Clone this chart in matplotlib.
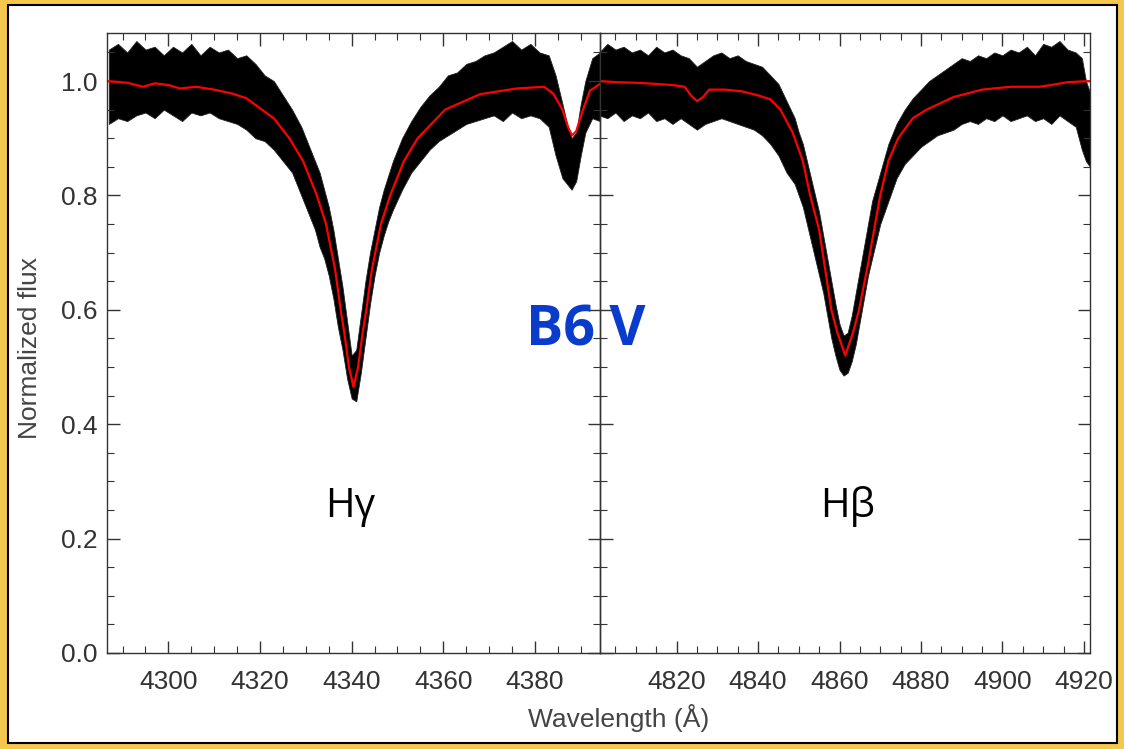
import matplotlib
matplotlib.use("Agg")
import matplotlib.pyplot as plt
from matplotlib.patches import Rectangle
from matplotlib.ticker import MultipleLocator

plt.rcParams["font.family"] = ["Liberation Sans", "DejaVu Sans"]

# --- H-gamma panel: observed band (upper / lower envelope) and model ---
wl_g = [4287, 4289, 4291, 4293, 4295, 4297, 4299, 4301, 4303, 4305, 4307, 4309,
        4311, 4313, 4315, 4317, 4319, 4321, 4323, 4325, 4327, 4329, 4331, 4332,
        4333, 4334, 4335, 4336, 4337, 4338, 4339, 4340, 4341, 4342, 4343, 4344,
        4345, 4346, 4347, 4348, 4349, 4351, 4353, 4355, 4357, 4359, 4361, 4363,
        4365, 4367, 4369, 4371, 4373, 4375, 4377, 4379, 4381, 4383, 4384.5, 4386,
        4387, 4388, 4389, 4390, 4391, 4392.5, 4394.2]
hi_g = [1.055, 1.065, 1.050, 1.070, 1.055, 1.060, 1.045, 1.060, 1.050, 1.065, 1.045, 1.060,
        1.050, 1.055, 1.040, 1.045, 1.030, 1.010, 1.000, 0.975, 0.950, 0.920, 0.880, 0.860,
        0.840, 0.810, 0.780, 0.740, 0.690, 0.640, 0.580, 0.520, 0.530, 0.590, 0.650, 0.700,
        0.740, 0.780, 0.810, 0.835, 0.860, 0.900, 0.930, 0.955, 0.975, 0.990, 1.010, 1.015,
        1.030, 1.035, 1.045, 1.050, 1.060, 1.070, 1.055, 1.065, 1.050, 1.045, 1.010, 0.960,
        0.925, 0.900, 0.910, 0.960, 1.000, 1.040, 1.050]
lo_g = [0.925, 0.935, 0.930, 0.940, 0.945, 0.935, 0.950, 0.940, 0.930, 0.945, 0.940, 0.945,
        0.935, 0.930, 0.925, 0.915, 0.900, 0.895, 0.880, 0.860, 0.840, 0.800, 0.760, 0.740,
        0.710, 0.690, 0.660, 0.620, 0.570, 0.530, 0.480, 0.445, 0.440, 0.490, 0.550, 0.610,
        0.660, 0.700, 0.730, 0.755, 0.775, 0.810, 0.840, 0.860, 0.880, 0.895, 0.905, 0.915,
        0.925, 0.930, 0.935, 0.940, 0.930, 0.945, 0.935, 0.940, 0.935, 0.920, 0.870, 0.830,
        0.820, 0.810, 0.825, 0.870, 0.910, 0.935, 0.930]
mwl_g = [4286.6, 4291, 4294.5, 4297, 4300, 4302.5, 4306, 4310, 4314, 4317, 4320.4, 4323,
         4326.4, 4329.4, 4332.4, 4334.4, 4336.4, 4337.6, 4338.4, 4339.4, 4340.4, 4341.4,
         4342.4, 4343.2, 4344.4, 4346.4, 4348.4, 4351.4, 4354.4, 4360.4, 4368, 4376, 4382,
         4384, 4386, 4387.3, 4388.1, 4389, 4390.5, 4392, 4394.2]
mfl_g = [1.000, 0.997, 0.990, 0.996, 0.993, 0.987, 0.990, 0.985, 0.978, 0.970, 0.950, 0.935,
         0.900, 0.860, 0.800, 0.750, 0.670, 0.600, 0.560, 0.500, 0.465, 0.500,
         0.560, 0.600, 0.670, 0.750, 0.800, 0.860, 0.900, 0.950, 0.977, 0.987, 0.990,
         0.978, 0.950, 0.918, 0.905, 0.912, 0.950, 0.983, 0.995]

# --- H-beta panel ---
wl_b = [4801, 4803, 4805, 4807, 4809, 4811, 4813, 4815, 4817, 4819, 4821, 4823,
        4825, 4827, 4829, 4831, 4833, 4835, 4837, 4839, 4841, 4843, 4845, 4847,
        4849, 4850, 4851, 4852, 4853, 4854, 4855, 4856, 4857, 4858, 4859, 4860,
        4861, 4862, 4863, 4864, 4865, 4866, 4867, 4868, 4869, 4870, 4872, 4874,
        4876, 4878, 4880, 4882, 4884, 4886, 4888, 4890, 4892, 4894, 4896, 4898,
        4900, 4902, 4904, 4906, 4908, 4910, 4912, 4914, 4916, 4918, 4919.5, 4920.5, 4921.5]
hi_b = [1.050, 1.065, 1.055, 1.060, 1.050, 1.055, 1.045, 1.060, 1.050, 1.055, 1.045, 1.040,
        1.025, 1.035, 1.045, 1.050, 1.040, 1.045, 1.035, 1.030, 1.025, 1.010, 0.995, 0.965,
        0.935, 0.910, 0.890, 0.860, 0.830, 0.800, 0.770, 0.730, 0.690, 0.650, 0.610, 0.575,
        0.555, 0.560, 0.590, 0.630, 0.670, 0.710, 0.750, 0.790, 0.815, 0.840, 0.890, 0.925,
        0.950, 0.970, 0.985, 1.000, 1.010, 1.020, 1.030, 1.040, 1.035, 1.045, 1.040, 1.050,
        1.045, 1.055, 1.050, 1.060, 1.045, 1.065, 1.060, 1.070, 1.055, 1.050, 1.040, 1.000, 0.980]
lo_b = [0.940, 0.935, 0.945, 0.930, 0.940, 0.935, 0.945, 0.930, 0.935, 0.925, 0.935, 0.925,
        0.915, 0.925, 0.930, 0.935, 0.930, 0.925, 0.920, 0.915, 0.905, 0.890, 0.870, 0.840,
        0.820, 0.800, 0.780, 0.750, 0.720, 0.690, 0.660, 0.630, 0.590, 0.550, 0.520, 0.495,
        0.485, 0.490, 0.510, 0.540, 0.580, 0.620, 0.660, 0.690, 0.720, 0.750, 0.790, 0.830,
        0.855, 0.870, 0.885, 0.895, 0.905, 0.910, 0.915, 0.925, 0.930, 0.925, 0.935, 0.930,
        0.940, 0.930, 0.935, 0.940, 0.930, 0.935, 0.925, 0.940, 0.930, 0.920, 0.880, 0.860, 0.850]
mwl_b = [4801.2, 4805, 4810, 4815, 4819, 4822, 4823.5, 4825, 4826.5, 4828, 4832, 4836,
         4840, 4843, 4845.5, 4848.5, 4851, 4852.8, 4855, 4858, 4859.5, 4861.4, 4863.3,
         4864.8, 4867, 4870, 4872, 4874.4, 4878, 4881.4, 4888, 4895, 4902, 4909, 4912,
         4916, 4921.5]
mfl_b = [1.000, 0.998, 0.997, 0.995, 0.993, 0.990, 0.975, 0.965, 0.972, 0.985, 0.985, 0.982,
         0.975, 0.968, 0.950, 0.910, 0.860, 0.800, 0.740, 0.600, 0.560, 0.520, 0.560,
         0.600, 0.680, 0.800, 0.860, 0.900, 0.935, 0.950, 0.972, 0.985, 0.990, 0.990, 0.993,
         0.998, 1.000]

xt_g = [4300, 4320, 4340, 4360, 4380]
xt_b = [4820, 4840, 4860, 4880, 4900, 4920]
yt = [0.0, 0.2, 0.4, 0.6, 0.8, 1.0]

W, H = 1124, 749
fig = plt.figure(figsize=(W / 100, H / 100), dpi=100, facecolor="#f4c84e")
fig.patches.append(Rectangle((8 / W, 6 / H), 1109 / W, 738 / H, transform=fig.transFigure,
                             facecolor="white", edgecolor="black", lw=1.5, zorder=-5))

ax1 = fig.add_axes([107 / W, 96 / H, 493 / W, 620 / H])
ax2 = fig.add_axes([600 / W, 96 / H, 490 / W, 620 / H], sharey=ax1)

panels = [(ax1, wl_g, hi_g, lo_g, mwl_g, mfl_g, (4286.6, 4394.2), xt_g),
          (ax2, wl_b, hi_b, lo_b, mwl_b, mfl_b, (4801.2, 4921.5), xt_b)]
for ax, wl, hi, lo, mwl, mfl, xlim, xt in panels:
    ax.fill_between(wl, lo, hi, color="black", lw=0.6, edgecolor="#222222")
    ax.plot(mwl, mfl, color="red", lw=1.6)
    ax.set_xlim(*xlim)
    ax.set_ylim(0, 1.084)
    ax.set_xticks(xt)
    ax.xaxis.set_minor_locator(MultipleLocator(5))
    ax.yaxis.set_minor_locator(MultipleLocator(0.05))
    ax.tick_params(which="both", direction="in", top=True, right=True,
                   colors="#333333", labelsize=19)
    ax.tick_params(which="major", length=9, width=1)
    ax.tick_params(which="minor", length=5, width=0.8)
    ax.tick_params(axis="x", pad=12)
    ax.tick_params(axis="y", pad=7)
    for s in ax.spines.values():
        s.set_color("#333333")
        s.set_linewidth(1.0)
    ax.set_facecolor("none")

ax1.set_yticks(yt)
ax1.set_yticklabels([f"{v:.1f}" for v in yt])
ax2.tick_params(axis="y", labelleft=False)

fig.text(30 / W, 1 - 348 / H, "Normalized flux", rotation=90, ha="center", va="center",
         fontsize=19, color="#444444")
fig.text(619 / W, 1 - 718 / H, "Wavelength (Å)", ha="center", va="center",
         fontsize=19, color="#444444")

fig.text(586 / W, 1 - 345 / H, "B6 V", ha="center", va="baseline", fontsize=40,
         weight="bold", color="#0a3ccc", family=["Open Sans", "DejaVu Sans"], zorder=10)
fig.text(350 / W, 1 - 517 / H, "Hγ", ha="center", va="baseline", fontsize=29,
         color="black", family=["Open Sans", "DejaVu Sans"], zorder=10)
fig.text(848 / W, 1 - 517 / H, "Hβ", ha="center", va="baseline", fontsize=29,
         color="black", family=["Open Sans", "DejaVu Sans"], zorder=10)

fig.savefig("out.png", dpi=100, facecolor=fig.get_facecolor())
